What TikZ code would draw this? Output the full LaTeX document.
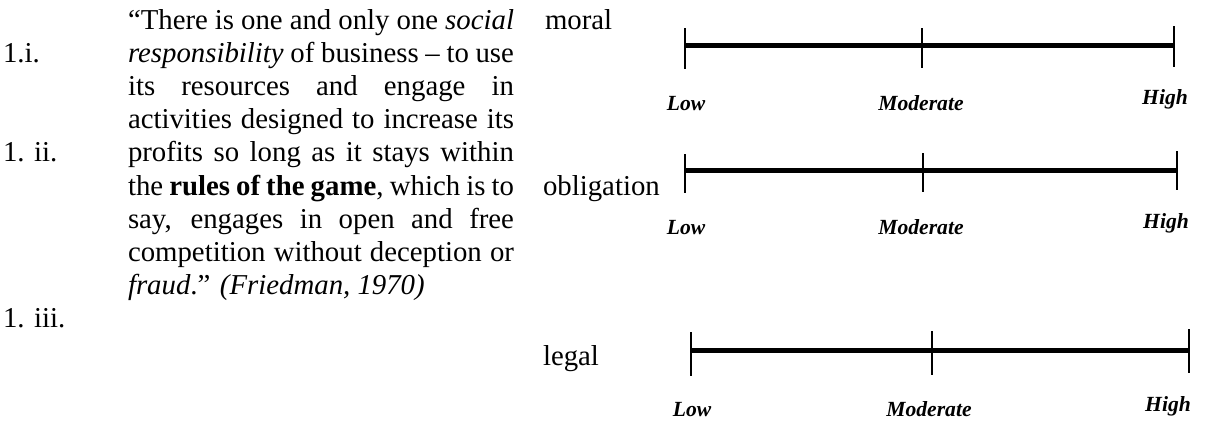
\documentclass[tikz,border=0pt]{standalone}
\usepackage{fontspec}
\setmainfont{Liberation Serif}
\begin{document}
\begin{tikzpicture}[x=1pt,y=-1pt,
  every node/.style={inner sep=0pt,outer sep=0pt},
  body/.style={anchor=base west,font=\fontsize{28.8}{33.1}\selectfont},
  scalelab/.style={anchor=base,font=\fontsize{21.6}{24}\selectfont\bfseries\itshape},
  bar/.style={line width=5pt},
  tick/.style={line width=1.6pt}]
\useasboundingbox (0,0) rectangle (1205,423);
% quote
\node[anchor=base west] (quote) at (128,29.5) {\parbox[t]{386pt}{\fontsize{28.8}{33.1}\selectfont\hfuzz=20pt\emergencystretch=3em
“There is one and only one \textit{social}\linebreak
\textit{responsibility} of business – to use\linebreak
its resources and engage in\linebreak
activities designed to increase its\linebreak
profits so long as it stays within\linebreak
the \textbf{rules of the game}, which is to\linebreak
say, engages in open and free\linebreak
competition without deception or\linebreak
\textit{fraud}.” \textit{(Friedman, 1970)}}};
\node[body] (li) at (3,62.6) {1.i.};
\node[body] (lii) at (3,161.9) {1. ii.};
\node[body] (liii) at (3,327.4) {1. iii.};
% row titles
\node[body] (moral) at (545,29.5) {moral};
\node[body] (oblig) at (543,195) {obligation};
\node[body] (legal) at (543,365) {legal};
% moral scale
\coordinate (mL) at (685,45); \coordinate (mM) at (922,45); \coordinate (mH) at (1174,45);
\draw[bar] (mL) -- (mH);
\draw[tick] (685,28) -- (685,69);
\draw[tick] (922,28) -- (922,68);
\draw[tick] (1174,26) -- (1174,67);
\node[scalelab] (mLow) at (686,110) {Low};
\node[scalelab] (mMod) at (921,110) {Moderate};
\node[scalelab] (mHigh) at (1165,104) {High};
% obligation scale
\coordinate (oL) at (685,170); \coordinate (oM) at (923,170); \coordinate (oH) at (1177,170);
\draw[bar] (oL) -- (oH);
\draw[tick] (685,154) -- (685,193);
\draw[tick] (923,153) -- (923,192);
\draw[tick] (1177,151) -- (1177,190);
\node[scalelab] (oLow) at (686,234) {Low};
\node[scalelab] (oMod) at (921,234) {Moderate};
\node[scalelab] (oHigh) at (1166,228) {High};
% legal scale
\coordinate (gL) at (691,350); \coordinate (gM) at (932,350); \coordinate (gH) at (1189,350);
\draw[bar] (gL) -- (gH);
\draw[tick] (691,332) -- (691,376);
\draw[tick] (932,331) -- (932,375);
\draw[tick] (1189,329) -- (1189,373);
\node[scalelab] (gLow) at (692,416) {Low};
\node[scalelab] (gMod) at (929,416) {Moderate};
\node[scalelab] (gHigh) at (1168,411) {High};
\end{tikzpicture}
\end{document}
